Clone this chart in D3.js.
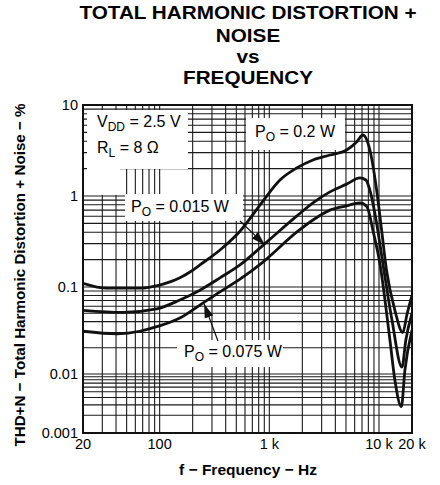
<!DOCTYPE html>
<html>
<head>
<meta charset="utf-8">
<script src="https://cdn.jsdelivr.net/npm/d3@7"></script>
<style>
  html, body { margin: 0; padding: 0; background: #fff; }
  svg { display: block; font-family: "Liberation Sans", Arial, Helvetica, sans-serif; }
</style>
</head>
<body>
<svg id="chart" width="440" height="485"></svg>
<script>
/* THD+N vs frequency, three output power levels. */

const titleLines = ["TOTAL HARMONIC DISTORTION +", "NOISE", "vs", "FREQUENCY"];

const xTickValues = [20, 100, 1000, 10000, 20000];
const xTickLabels = ["20", "100", "1 k", "10 k", "20 k"];
const yTickValues = [10, 1, 0.1, 0.01, 0.001];
const yTickLabels = ["10", "1", "0.1", "0.01", "0.001"];

// P_O = 0.2 W
const freq200 = [20, 33, 66, 100, 153, 189, 233, 355, 540, 875, 1250, 1775, 2500, 3570, 5070, 6250, 7130, 8260, 9520, 10570, 11700, 13960, 16500, 17970, 20000];
const thd200  = [0.11, 0.097, 0.097, 0.105, 0.126, 0.146, 0.175, 0.255, 0.41, 0.88, 1.5, 2.03, 2.49, 2.82, 3.2, 3.92, 4.68, 3.2, 1.16, 0.42, 0.154, 0.054, 0.03, 0.048, 0.08];

// P_O = 0.015 W
const freq015 = [20, 46, 94, 153, 233, 355, 540, 912, 1775, 2500, 3570, 5070, 6700, 7600, 8260, 9520, 10860, 13120, 16200, 17580, 20000];
const thd015  = [0.054, 0.051, 0.056, 0.071, 0.092, 0.126, 0.175, 0.30, 0.60, 0.84, 1.11, 1.35, 1.58, 1.5, 1.16, 0.50, 0.18, 0.042, 0.012, 0.0246, 0.05];

// P_O = 0.075 W
const freq075 = [20, 41, 66, 94, 153, 233, 355, 540, 875, 1775, 2500, 3570, 5070, 6700, 7780, 8800, 10200, 12580, 13960, 16000, 17230, 20000];
const thd075  = [0.031, 0.029, 0.031, 0.035, 0.044, 0.062, 0.088, 0.122, 0.188, 0.40, 0.545, 0.70, 0.78, 0.84, 0.76, 0.42, 0.18, 0.0246, 0.0079, 0.0028, 0.011, 0.032];

const series = [
  { freq: freq200, thd: thd200 },
  { freq: freq015, thd: thd015 },
  { freq: freq075, thd: thd075 }
];

/* ---------- SCALES ---------- */

const L = 83, R = 412, T = 105, B = 433;

const x = d3.scaleLog().domain([20, 20000]).range([L, R]);
// the bottom decade of the printed chart is squeezed, so map log10 piecewise
const yLog = d3.scaleLinear().domain([-3, -2, -1, 0, 1]).range([B, 374, 287, 196, T]);
const y = function (v) { return yLog(Math.log10(v)); };

const svg = d3.select("#chart");

/* ---------- TITLE ---------- */

const titleY = [19, 42, 63, 84];
svg.append("g").selectAll("text")
  .data(titleLines)
  .enter().append("text")
  .attr("transform", function (d, i) { return "translate(248," + titleY[i] + ") scale(1.12,1)"; })
  .attr("text-anchor", "middle")
  .attr("font-weight", "bold")
  .attr("font-size", 18.5)
  .text(function (d) { return d; });

/* ---------- GRID ---------- */

const gridX = [];
for (let dec = 10; dec <= 1000; dec *= 10) {
  for (let m = 1; m <= 9; m++) {
    const f = m * dec;
    if (f > 20 && f <= 10000) gridX.push(f);
  }
}
gridX.push(10000);
const gridY = [];
for (let k = -3; k <= 0; k++) {
  for (let m = 2; m <= 9; m++) gridY.push(m * Math.pow(10, k));
  gridY.push(Math.pow(10, k + 1));
}

const grid = svg.append("g").attr("stroke", "#1a1a1a").attr("stroke-width", 1.1);
grid.selectAll("line.v").data(gridX).enter().append("line")
  .attr("class", "v")
  .attr("x1", function (d) { return x(d); }).attr("x2", function (d) { return x(d); })
  .attr("y1", T).attr("y2", B);
grid.selectAll("line.h").data(gridY).enter().append("line")
  .attr("class", "h")
  .attr("x1", L).attr("x2", R)
  .attr("y1", function (d) { return y(d); }).attr("y2", function (d) { return y(d); });

/* white label panels that blank out the grid */
const panels = [
  [87, 110, 101, 59],
  [87, 169, 33, 26],
  [125, 194, 118, 27],
  [246, 118, 99, 32],
  [177, 340, 106, 27]
];
svg.append("g").selectAll("rect")
  .data(panels)
  .enter().append("rect")
  .attr("x", function (d) { return d[0]; })
  .attr("y", function (d) { return d[1]; })
  .attr("width", function (d) { return d[2]; })
  .attr("height", function (d) { return d[3]; })
  .attr("fill", "#fff");

/* ---------- CURVES ---------- */

svg.append("clipPath").attr("id", "plot-clip")
  .append("rect").attr("x", L).attr("y", T).attr("width", R - L).attr("height", B - T);

const line = d3.line()
  .x(function (d) { return x(d[0]); })
  .y(function (d) { return y(d[1]); })
  .curve(d3.curveMonotoneX);

svg.append("g").attr("clip-path", "url(#plot-clip)")
  .selectAll("path")
  .data(series)
  .enter().append("path")
  .attr("d", function (s) { return line(s.freq.map(function (f, i) { return [f, s.thd[i]]; })); })
  .attr("fill", "none")
  .attr("stroke", "#111")
  .attr("stroke-width", 2.8)
  .attr("stroke-linejoin", "round");

/* ---------- FRAME + AXES ---------- */

svg.append("rect")
  .attr("x", L).attr("y", T).attr("width", R - L).attr("height", B - T)
  .attr("fill", "none").attr("stroke", "#111").attr("stroke-width", 2);

svg.append("g").selectAll("text")
  .data(yTickValues)
  .enter().append("text")
  .attr("x", 78)
  .attr("y", function (d) { return y(d); })
  .attr("dy", "0.36em")
  .attr("text-anchor", "end")
  .attr("font-size", 14.5)
  .text(function (d, i) { return yTickLabels[i]; });

svg.append("g").selectAll("text")
  .data(xTickValues)
  .enter().append("text")
  .attr("x", function (d) { return x(d); })
  .attr("y", 449)
  .attr("text-anchor", "middle")
  .attr("font-size", 14.5)
  .text(function (d, i) { return xTickLabels[i]; });

svg.append("text")
  .attr("x", 248).attr("y", 475)
  .attr("text-anchor", "middle")
  .attr("font-weight", "bold")
  .attr("font-size", 15.5)
  .text("f \u2212 Frequency \u2212 Hz");

svg.append("text")
  .attr("transform", "translate(25,275) rotate(-90)")
  .attr("text-anchor", "middle")
  .attr("font-weight", "bold")
  .attr("font-size", 15.2)
  .text("THD+N \u2212 Total Harmonic Distortion + Noise \u2212 %");

/* ---------- ANNOTATIONS ---------- */

function subLabel(px, py, main, sub, rest) {
  const t = svg.append("text").attr("x", px).attr("y", py).attr("font-size", 16);
  t.append("tspan").text(main);
  t.append("tspan").attr("font-size", 12).attr("dy", 4).text(sub);
  t.append("tspan").attr("dy", -4).text(rest);
}

subLabel(97, 127, "V", "DD", " = 2.5 V");
subLabel(97, 153, "R", "L", " = 8 \u03A9");
subLabel(255, 137, "P", "O", " = 0.2 W");
subLabel(131, 212, "P", "O", " = 0.015 W");
subLabel(184, 357, "P", "O", " = 0.075 W");

svg.append("defs").append("marker")
  .attr("id", "head")
  .attr("viewBox", "0 -5 14 10")
  .attr("refX", 14).attr("refY", 0)
  .attr("markerUnits", "userSpaceOnUse")
  .attr("markerWidth", 14).attr("markerHeight", 10)
  .attr("orient", "auto")
  .append("path").attr("d", "M0,-4.5L14,0L0,4.5Z").attr("fill", "#111");

const arrows = [
  { from: [240, 221], to: [912, 0.29] },
  { from: [218, 341], to: [254, 0.064] }
];
svg.append("g").selectAll("line")
  .data(arrows)
  .enter().append("line")
  .attr("x1", function (d) { return d.from[0]; })
  .attr("y1", function (d) { return d.from[1]; })
  .attr("x2", function (d) { return x(d.to[0]); })
  .attr("y2", function (d) { return y(d.to[1]); })
  .attr("stroke", "#111")
  .attr("stroke-width", 1.2)
  .attr("marker-end", "url(#head)");
</script>
</body>
</html>
